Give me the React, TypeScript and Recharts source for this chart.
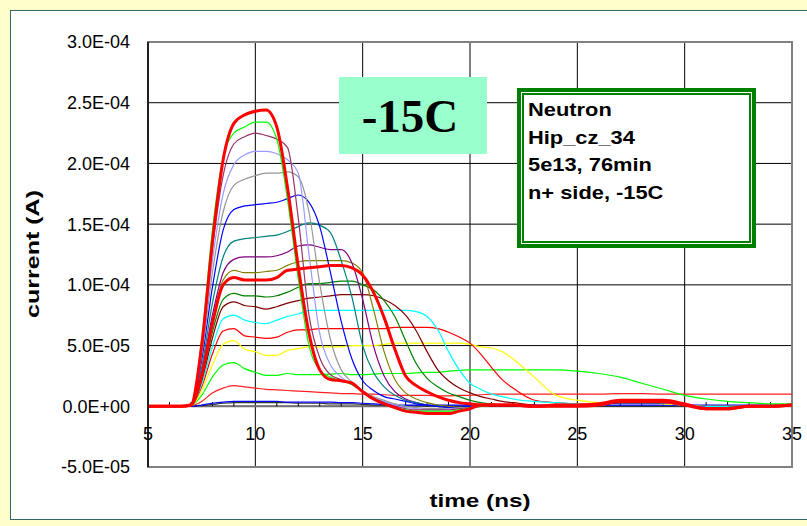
import React from "react";
import {
  LineChart,
  Line,
  XAxis,
  YAxis,
  CartesianGrid,
  ReferenceArea,
  ReferenceLine,
} from "recharts";

// current values are in units of 1E-05 A
const UNIT = 1e-5;

const T = [5, 6.5, 7, 7.5, 8, 8.5, 9, 9.5, 10, 10.5, 11, 11.5, 12, 12.5, 13, 13.5, 14, 14.5, 15, 15.5, 16, 16.5, 17, 17.5, 18, 18.5, 19, 19.5, 20, 20.5, 21, 21.5, 22, 23, 24, 25, 26, 27, 28, 29, 30, 31, 32, 33, 34, 35];

const X_TICKS = [5, 10, 15, 20, 25, 30, 35];
const Y_TICKS = [-5, 0, 5, 10, 15, 20, 25, 30];
const MINOR_TICKS = [6, 7, 8, 9, 11, 12, 13, 14, 16, 17, 18, 19, 21, 22, 23, 24, 26, 27, 28, 29, 31, 32, 33, 34];

const DARK_LOW = [0, 0, 0, 0.05, 0.15, 0.25, 0.3, 0.3, 0.3, 0.3, 0.3, 0.3, 0.25, 0.25, 0.25, 0.2, 0.2, 0.2, 0.15, 0.1, 0.1, 0.05, 0.05, 0.05, 0, 0, 0, 0, 0, 0, 0, 0, 0, 0, 0, 0, 0, 0, 0, 0, 0, 0, 0, 0, 0, 0];
const BLUE_LOW = [0, 0, 0, 0.1, 0.25, 0.35, 0.4, 0.4, 0.4, 0.4, 0.4, 0.35, 0.35, 0.35, 0.35, 0.35, 0.3, 0.3, 0.25, 0.2, 0.15, 0.1, 0.1, 0.1, 0.1, 0.1, 0.1, 0.1, 0.1, 0.1, 0.1, 0.1, 0.1, 0.1, 0.1, 0.1, 0.1, 0.1, 0.1, 0.1, 0.1, 0.1, 0.1, 0.1, 0.1, 0.1];
const RED_LOW = [0, 0, 0.05, 0.4, 1.1, 1.5, 1.7, 1.6, 1.5, 1.4, 1.35, 1.3, 1.25, 1.2, 1.15, 1.1, 1.05, 1.05, 1.0, 1.0, 0.95, 0.9, 0.9, 0.9, 0.9, 0.85, 0.85, 0.9, 0.9, 0.95, 1.0, 1.0, 1.0, 1.0, 1.0, 1.0, 1.0, 1.05, 1.05, 1.0, 1.0, 1.0, 1.0, 1.0, 1.0, 1.0];
const GREEN_LOW = [0, 0, 0.05, 0.9, 2.4, 3.4, 3.6, 3.1, 2.8, 2.55, 2.55, 2.7, 2.6, 2.6, 2.6, 2.65, 2.7, 2.6, 2.6, 2.65, 2.7, 2.7, 2.7, 2.75, 2.8, 2.8, 2.9, 2.95, 3.0, 3.0, 3.0, 3.0, 3.0, 3.0, 3.0, 2.9, 2.7, 2.4, 1.9, 1.4, 0.9, 0.6, 0.4, 0.3, 0.2, 0.2];
const YELLOW = [0, 0, 0.05, 1.3, 3.4, 5.1, 5.4, 4.7, 4.5, 4.2, 4.2, 4.6, 4.75, 4.9, 4.9, 4.9, 4.9, 5.0, 5.0, 5.0, 5.1, 5.2, 5.2, 5.2, 5.2, 5.2, 5.2, 5.2, 5.1, 4.9, 4.8, 4.5, 3.9, 2.4, 0.9, 0.5, 0.3, 0.3, 0.3, 0.2, 0.1, 0.0, 0.0, 0.0, 0.0, 0.0];
const RED_MID = [0, 0, 0.1, 1.6, 4.3, 6.2, 6.4, 5.8, 5.7, 5.6, 5.7, 6.1, 6.3, 6.3, 6.4, 6.4, 6.4, 6.4, 6.4, 6.4, 6.4, 6.5, 6.5, 6.5, 6.5, 6.4, 6.1, 5.7, 5.2, 4.3, 3.2, 2.2, 1.5, 0.5, 0.3, 0.2, 0.2, 0.3, 0.3, 0.3, 0.1, 0.0, 0.0, 0.0, 0.0, 0.0];
const CYAN = [0, 0, 0.1, 1.8, 4.9, 7.2, 7.5, 7.1, 6.9, 6.8, 7.1, 7.4, 7.6, 7.9, 7.9, 7.9, 7.9, 7.9, 7.9, 7.9, 7.9, 7.9, 7.9, 7.8, 7.4, 6.3, 4.5, 3.0, 1.9, 1.4, 1.0, 0.8, 0.6, 0.4, 0.3, 0.2, 0.1, 0.3, 0.3, 0.3, 0.1, 0.0, 0.0, 0.0, 0.0, 0.0];
const MAROON = [0, 0, 0.1, 2.1, 5.6, 8.2, 8.6, 8.3, 8.2, 8.0, 8.2, 8.5, 8.7, 8.9, 9.0, 9.1, 9.2, 9.2, 9.2, 9.1, 8.8, 8.3, 7.5, 6.2, 4.5, 3.0, 2.1, 1.5, 1.1, 0.8, 0.6, 0.4, 0.3, 0.1, 0.0, 0.0, 0.1, 0.3, 0.3, 0.3, 0.1, -0.1, -0.1, 0.0, 0.0, 0.0];
const DARK_GREEN = [0, 0, 0.1, 2.3, 6.1, 8.8, 9.3, 9.1, 9.1, 9.0, 9.1, 9.4, 9.8, 10.1, 10.1, 10.2, 10.3, 10.3, 10.0, 9.6, 8.7, 7.4, 5.4, 3.5, 2.3, 1.6, 1.1, 0.8, 0.5, 0.3, 0.2, 0.1, 0.1, 0.0, 0.0, 0.0, 0.1, 0.3, 0.3, 0.3, 0.1, -0.1, -0.1, 0.0, 0.0, 0.0];
const RED_THICK_LOW = [0, 0, 0.1, 2.5, 6.8, 10.0, 10.6, 10.4, 10.4, 10.4, 10.6, 11.2, 11.3, 11.4, 11.5, 11.6, 11.6, 11.4, 10.8, 9.4, 7.3, 4.7, 2.5, 1.7, 1.2, 0.8, 0.5, 0.3, 0.2, 0.1, 0.1, 0.1, 0.1, 0.0, 0.0, 0.0, 0.1, 0.4, 0.4, 0.4, 0.1, -0.2, -0.2, 0.0, 0.0, 0.1];
const OLIVE = [0, 0, 0.1, 2.6, 7.0, 10.4, 11.2, 11.0, 11.0, 11.1, 11.2, 11.6, 11.9, 12.0, 12.0, 12.0, 12.0, 11.8, 11.0, 8.0, 4.5, 2.2, 1.1, 0.6, 0.3, 0.1, 0.0, -0.1, 0.0, 0.0, 0.1, 0.1, 0.1, 0.0, 0.0, 0.0, 0.1, 0.3, 0.3, 0.3, 0.1, -0.1, -0.1, 0.0, 0.0, 0.0];
const PURPLE = [0, 0, 0.1, 2.9, 7.5, 11.0, 12.1, 12.3, 12.3, 12.3, 12.4, 12.7, 13.2, 13.3, 13.1, 12.9, 12.9, 11.8, 8.8, 5.0, 2.5, 1.2, 0.6, 0.3, 0.1, 0.0, -0.1, -0.1, 0.0, 0.0, 0.1, 0.1, 0.1, 0.0, 0.0, 0.0, 0.1, 0.3, 0.3, 0.3, 0.1, -0.1, -0.1, 0.0, 0.0, 0.0];
const TEAL = [0, 0, 0.1, 3.2, 8.5, 12.3, 13.6, 13.8, 13.9, 14.0, 14.1, 14.4, 14.8, 15.1, 14.9, 14.3, 12.0, 9.0, 5.0, 2.8, 1.6, 0.9, 0.5, 0.3, 0.1, 0.0, -0.1, -0.1, 0.0, 0.0, 0.1, 0.1, 0.1, 0.0, 0.0, 0.0, 0.1, 0.3, 0.3, 0.3, 0.1, -0.1, -0.1, 0.0, 0.0, 0.0];
const BLUE = [0, 0, 0.1, 3.8, 9.8, 14.5, 16.2, 16.5, 16.6, 16.7, 16.8, 17.1, 17.4, 16.8, 14.8, 11.0, 7.0, 3.9, 2.1, 1.3, 0.8, 0.6, 0.4, 0.2, 0.1, 0.0, -0.1, -0.1, 0.0, 0.0, 0.1, 0.1, 0.1, 0.0, 0.0, 0.0, 0.1, 0.3, 0.3, 0.3, 0.1, -0.1, -0.1, 0.0, 0.0, 0.0];
const GRAY = [0, 0, 0.1, 4.2, 11.0, 16.0, 18.2, 18.7, 19.0, 19.2, 19.2, 19.3, 18.9, 16.0, 10.1, 5.5, 3.0, 2.0, 1.3, 0.8, 0.5, 0.2, 0.0, -0.1, -0.2, -0.2, -0.2, -0.1, -0.1, 0.0, 0.1, 0.1, 0.1, 0.0, 0.0, 0.0, 0.1, 0.4, 0.4, 0.3, 0.1, -0.1, -0.1, 0.0, 0.0, 0.0];
const LAVENDER = [0, 0, 0.1, 4.6, 12.0, 17.5, 19.9, 20.7, 21.0, 21.0, 20.8, 20.3, 19.2, 12.5, 6.0, 3.4, 2.4, 1.8, 1.2, 0.7, 0.4, 0.1, -0.1, -0.2, -0.3, -0.3, -0.2, -0.2, -0.1, 0.0, 0.1, 0.1, 0.1, 0.0, 0.0, 0.0, 0.1, 0.4, 0.4, 0.3, 0.1, -0.1, -0.1, 0.0, 0.0, 0.0];
const PLUM = [0, 0, 0.1, 5.0, 13.0, 19.0, 21.6, 22.2, 22.5, 22.3, 22.0, 21.3, 15.5, 7.5, 4.0, 2.6, 2.2, 1.8, 1.2, 0.7, 0.3, 0.0, -0.2, -0.3, -0.3, -0.3, -0.3, -0.2, -0.1, 0.0, 0.1, 0.1, 0.1, 0.0, 0.0, 0.0, 0.1, 0.4, 0.4, 0.3, 0.1, -0.1, -0.1, 0.0, 0.0, 0.0];
const GREEN_HIGH = [0, 0, 0.1, 5.5, 14.5, 20.5, 22.5, 23.0, 23.4, 23.4, 22.0, 17.0, 10.5, 5.0, 3.0, 2.4, 2.1, 1.8, 1.2, 0.6, 0.2, -0.1, -0.3, -0.4, -0.4, -0.4, -0.4, -0.3, -0.1, 0.0, 0.1, 0.1, 0.1, 0.0, 0.0, 0.1, 0.1, 0.4, 0.4, 0.4, 0.1, -0.2, -0.1, 0.0, 0.0, 0.0];
const RED_THICK_HIGH = [0, 0, 0.1, 5.0, 13.5, 20.3, 23.3, 24.0, 24.3, 24.4, 23.0, 18.0, 11.5, 6.0, 3.0, 2.2, 2.1, 1.9, 1.2, 0.6, 0.2, -0.1, -0.4, -0.5, -0.6, -0.6, -0.6, -0.4, -0.2, 0.1, 0.1, 0.1, 0.1, 0.0, 0.1, 0.1, 0.2, 0.5, 0.5, 0.5, 0.2, -0.2, -0.2, 0.0, 0.0, 0.1];

const SERIES = [
  { key: "darkLow", color: "#333333", width: 1.2, values: DARK_LOW },
  { key: "blueLow", color: "#0000FF", width: 1.2, values: BLUE_LOW },
  { key: "redLow", color: "#FF2020", width: 1.2, values: RED_LOW },
  { key: "greenLow", color: "#00FF00", width: 1.2, values: GREEN_LOW },
  { key: "yellow", color: "#FFFF00", width: 1.2, values: YELLOW },
  { key: "redMid", color: "#FF0000", width: 1.2, values: RED_MID },
  { key: "cyan", color: "#00FFFF", width: 1.2, values: CYAN },
  { key: "maroon", color: "#800000", width: 1.2, values: MAROON },
  { key: "darkGreen", color: "#008000", width: 1.2, values: DARK_GREEN },
  { key: "olive", color: "#808000", width: 1.2, values: OLIVE },
  { key: "purple", color: "#800080", width: 1.2, values: PURPLE },
  { key: "teal", color: "#008080", width: 1.2, values: TEAL },
  { key: "blue", color: "#0000FF", width: 1.2, values: BLUE },
  { key: "gray", color: "#969696", width: 1.2, values: GRAY },
  { key: "lavender", color: "#9999FF", width: 1.2, values: LAVENDER },
  { key: "plum", color: "#993366", width: 1.2, values: PLUM },
  { key: "greenHigh", color: "#00FF00", width: 1.2, values: GREEN_HIGH },
  { key: "redThickLow", color: "#FF0000", width: 3, values: RED_THICK_LOW },
  { key: "redThickHigh", color: "#FF0000", width: 3, values: RED_THICK_HIGH },
];

const chartData = T.map((t, i) => {
  const row: Record<string, number> = { t };
  SERIES.forEach((s) => {
    row[s.key] = s.values[i];
  });
  return row;
});

const FONT = "'Liberation Sans', Arial, sans-serif";

// 30 -> "3.0E-04", 0 -> "0.0E+00"
const fmtSci = (v: number) => {
  const [m, e] = (v * UNIT).toExponential(1).split("e");
  const n = Number(e);
  return `${m}E${n < 0 ? "-" : "+"}${String(Math.abs(n)).padStart(2, "0")}`;
};

function XTick({ x, y, payload }: any) {
  // Excel draws the category labels just under the zero line
  return (
    <text x={x} y={y - 27} textAnchor="middle" fill="#000" fontSize={18} fontFamily={FONT}>
      {payload.value}
    </text>
  );
}

export default function App() {
  return (
    <div style={{ position: "absolute", left: 0, top: 0, width: 807, height: 526, background: "#FFFFCC", overflow: "hidden" }}>
      <div style={{ position: "absolute", left: 10, top: 10, width: 805, height: 508, background: "#fff", border: "1px solid #336666" }} />
      <div style={{ position: "absolute", left: 0, top: 0 }}>
        <LineChart width={807} height={526} data={chartData} margin={{ top: 42, right: 15, bottom: 29, left: 48 }}>
          <CartesianGrid stroke="#000" strokeWidth={1} />
          <XAxis
            dataKey="t"
            type="number"
            domain={[5, 35]}
            ticks={X_TICKS}
            height={30}
            tickLine={false}
            axisLine={false}
            tickSize={0}
            tickMargin={0}
            tick={<XTick />}
            interval={0}
          />
          <YAxis
            type="number"
            domain={[-5, 30]}
            ticks={Y_TICKS}
            width={100}
            interval={0}
            tickLine={false}
            tickSize={6}
            tickMargin={12}
            axisLine={{ stroke: "#000", strokeWidth: 1.5 }}
            tick={{ fill: "#000", fontSize: 18, fontFamily: FONT }}
            tickFormatter={fmtSci}
          />
          <ReferenceArea x1={5} x2={35} y1={-5} y2={30} fill="none" stroke="#808080" strokeWidth={2} />
          <ReferenceLine y={0} stroke="#707070" strokeWidth={2} />
          {MINOR_TICKS.map((m) => (
            <ReferenceLine key={m} segment={[{ x: m, y: 0 }, { x: m, y: 0.35 }]} stroke="#000" strokeWidth={1} />
          ))}
          {SERIES.map((s) => (
            <Line
              key={s.key}
              dataKey={s.key}
              type="monotone"
              stroke={s.color}
              strokeWidth={s.width}
              dot={false}
              isAnimationActive={false}
            />
          ))}
        </LineChart>
      </div>

      <svg width={807} height={526} style={{ position: "absolute", left: 0, top: 0, pointerEvents: "none" }}>
        <text x={480} y={507} textAnchor="middle" fontFamily={FONT} fontWeight="bold" fontSize={19} textLength={101} lengthAdjust="spacingAndGlyphs">
          time (ns)
        </text>
        <text
          x={0}
          y={0}
          transform="translate(39 254) rotate(-90)"
          textAnchor="middle"
          fontFamily={FONT}
          fontWeight="bold"
          fontSize={19}
          textLength={128}
          lengthAdjust="spacingAndGlyphs"
        >
          current (A)
        </text>
      </svg>

      <div
        style={{
          position: "absolute",
          left: 339,
          top: 77,
          width: 148,
          height: 77,
          background: "#99FFCC",
          display: "flex",
          alignItems: "center",
          justifyContent: "center",
          paddingRight: 6,
          boxSizing: "border-box",
          fontFamily: "'Liberation Serif', 'Times New Roman', serif",
          fontWeight: "bold",
          fontSize: 47,
          color: "#000",
        }}
      >
        -15C
      </div>

      <div
        style={{
          position: "absolute",
          left: 517,
          top: 88,
          width: 239,
          height: 160,
          boxSizing: "border-box",
          border: "4px solid #008000",
          background: "#fff",
        }}
      >
        <div
          style={{
            position: "absolute",
            left: 1,
            top: 1,
            right: 1,
            bottom: 1,
            border: "2px solid #008000",
            padding: "1px 0 0 4px",
            fontFamily: FONT,
            fontWeight: "bold",
            fontSize: 19,
            lineHeight: "27.5px",
            color: "#000",
          }}
        >
          {["Neutron", "Hip_cz_34", "5e13, 76min", "n+ side, -15C"].map((line) => (
            <div key={line} style={{ transform: "scaleX(1.15)", transformOrigin: "left center", whiteSpace: "nowrap" }}>
              {line}
            </div>
          ))}
        </div>
      </div>
    </div>
  );
}
